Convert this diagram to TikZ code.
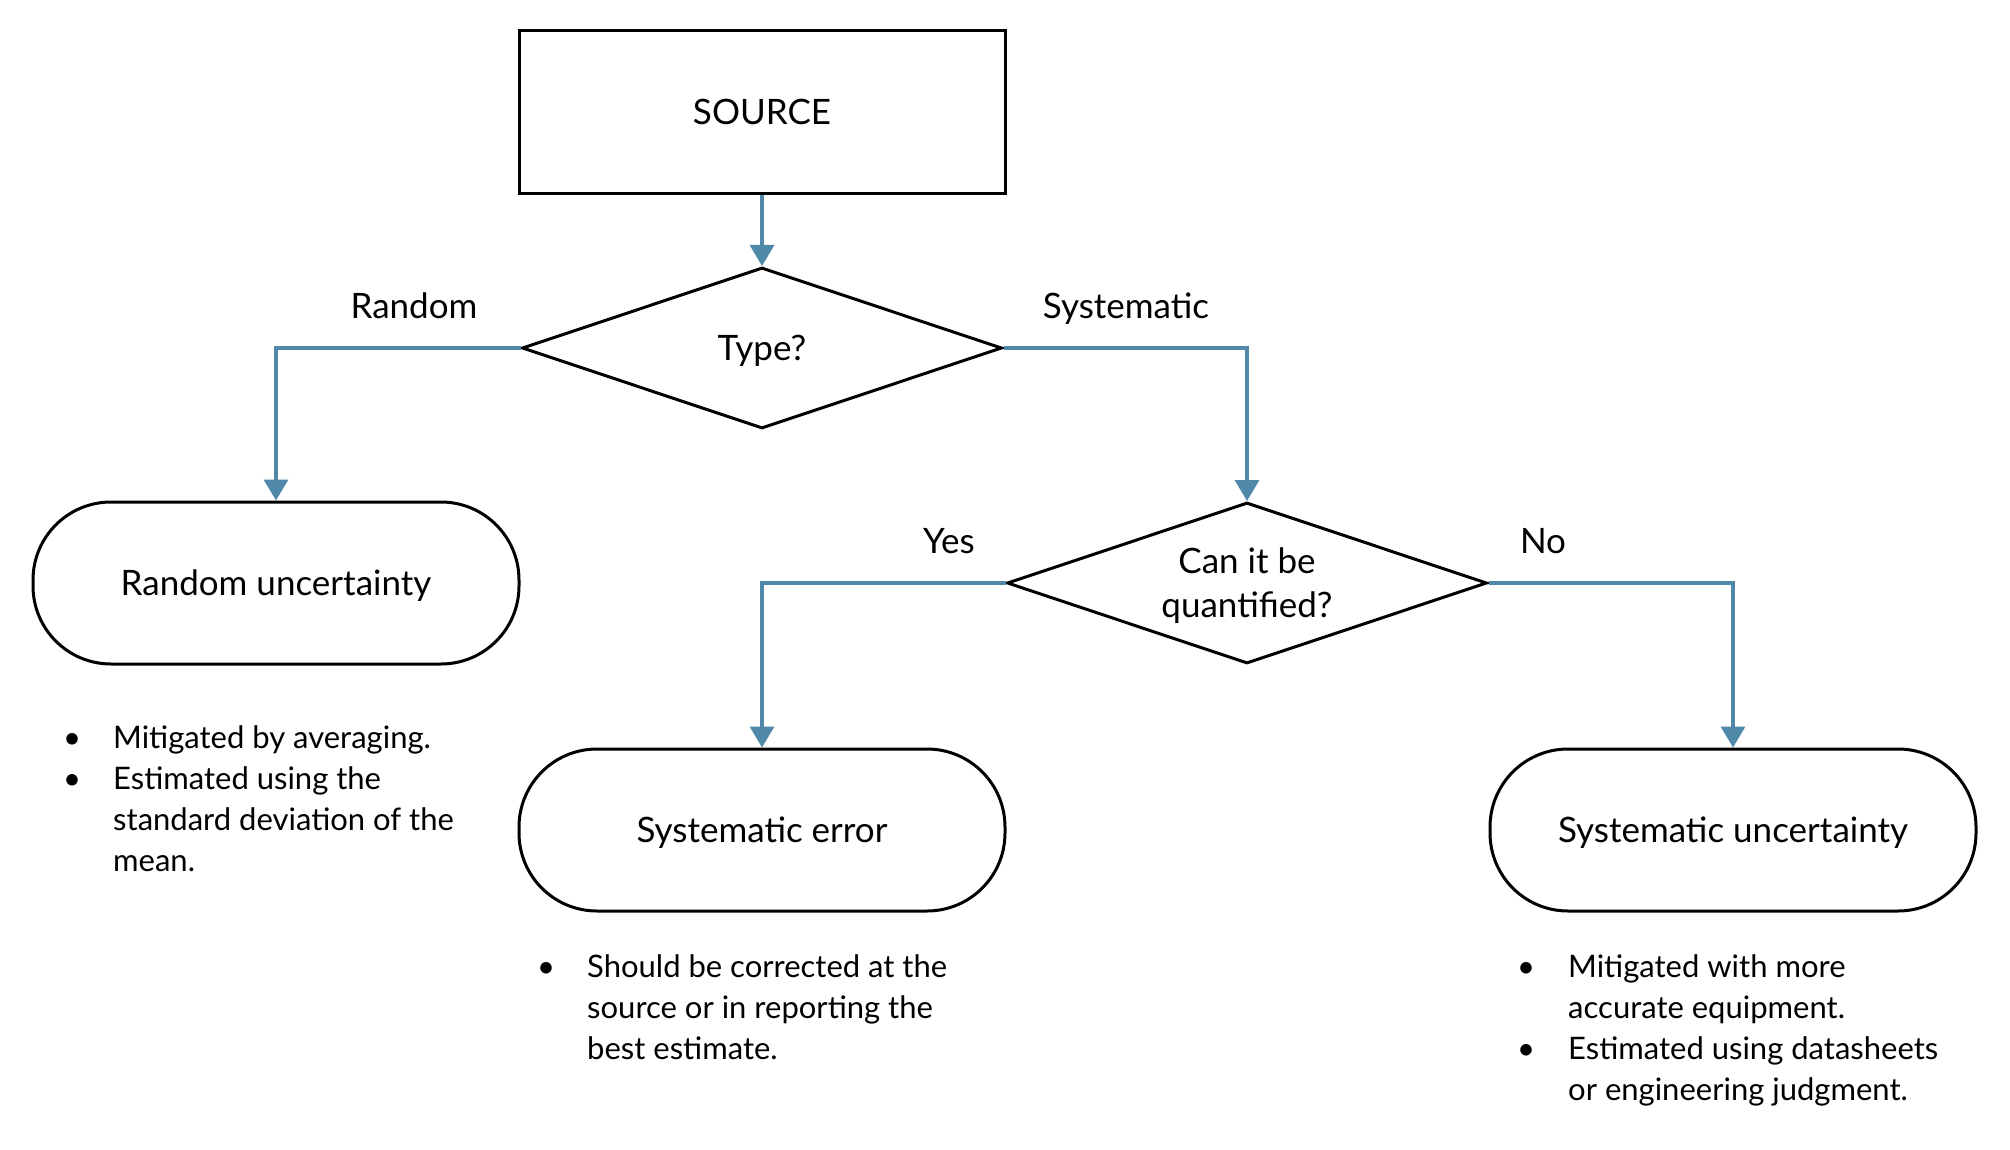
\documentclass[tikz,border=0pt]{standalone}
\usepackage{fontspec}
\setmainfont{Lato}
\usetikzlibrary{shapes.geometric,arrows.meta}
\definecolor{connc}{RGB}{80,136,170}
\begin{document}
\begin{tikzpicture}[x=1pt,y=-1pt,
  every node/.style={font=\fontsize{35}{44}\selectfont},
  box/.style={draw=black,line width=3pt,minimum width=486pt,minimum height=163pt,inner sep=0pt,text depth=0pt},
  term/.style={draw=black,line width=3pt,rounded corners=78pt,minimum width=486pt,minimum height=162pt,inner sep=0pt,text depth=0pt},
  decision/.style={draw=black,line width=3pt,diamond,aspect=3,minimum width=480pt,minimum height=161pt,inner sep=0pt,align=center,text depth=0pt},
  connector/.style={draw=connc,line width=3.3pt,-{Triangle[width=24pt,length=21pt]}},
  lbl/.style={inner sep=0pt,anchor=base},
  notes/.style={inner sep=0pt,anchor=base west,font=\fontsize{31}{41}\selectfont}
]
\fill[white] (0,0) rectangle (2010,1150);
\useasboundingbox (0,0) rectangle (2010,1150);

\node[box] (src) at (762,112) {SOURCE};
\node[decision] (type) at (762,348) {Type?};
\node[term] (rand) at (276,583) {Random uncertainty};
\node[decision] (canq) at (1247,583) {Can it be\\quantified?};
\node[term] (serr) at (762,830) {Systematic error};
\node[term] (sunc) at (1733,830) {Systematic uncertainty};

\draw[connector] (src.south) -- (type.north);
\draw[connector] (type.west) -| (rand.north);
\draw[connector] (type.east) -| (canq.north);
\draw[connector] (canq.west) -| (serr.north);
\draw[connector] (canq.east) -| (sunc.north);

\node[lbl] (lrand) at (414,318) {Random};
\node[lbl] (lsys) at (1126,318) {Systematic};
\node[lbl] (lyes) at (949,553) {Yes};
\node[lbl] (lno) at (1543,553) {No};

\node[notes] (nrand) at (63,748) {\begin{tabular}[t]{@{}p{50pt}@{}l@{}}
\textbullet & Mitigated by averaging.\\
\textbullet & Estimated using the\\
 & standard deviation of the\\
 & mean.
\end{tabular}};
\node[notes] (nserr) at (537,977) {\begin{tabular}[t]{@{}p{50pt}@{}l@{}}
\textbullet & Should be corrected at the\\
 & source or in reporting the\\
 & best estimate.
\end{tabular}};
\node[notes] (nsunc) at (1517,977) {\begin{tabular}[t]{@{}p{51pt}@{}l@{}}
\textbullet & Mitigated with more\\
 & accurate equipment.\\
\textbullet & Estimated using datasheets\\
 & or engineering judgment.
\end{tabular}};
\end{tikzpicture}
\end{document}
